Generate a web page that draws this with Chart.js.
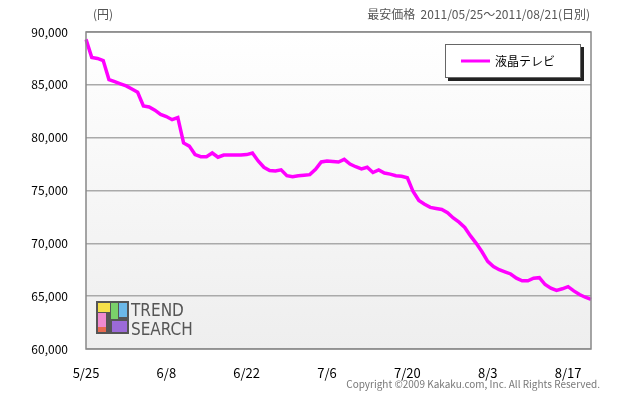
<!DOCTYPE html>
<html><head><meta charset="utf-8">
<script src="https://cdn.jsdelivr.net/npm/chart.js@4/dist/chart.umd.min.js"></script>
<style>html,body{margin:0;padding:0;background:#fff}#w{width:640px;height:400px;position:relative}</style>
</head><body><div id="w"><canvas id="c" width="640" height="400"></canvas></div>
<script>
const startDate = [2011, 5, 25];
const dayCount = 89;
const prices = [89300,87600,87500,87300,85500,85300,85100,84900,84600,84300,
83000,82900,82600,82200,82000,81700,81900,79500,79200,78400,
78200,78200,78550,78150,78350,78350,78350,78350,78400,78550,
77800,77200,76900,76850,76950,76400,76300,76400,76450,76500,
77000,77700,77800,77750,77700,77950,77500,77250,77050,77200,
76700,76950,76650,76550,76400,76350,76200,74900,74050,73700,
73400,73300,73200,72900,72400,72000,71500,70700,70000,69200,
68300,67800,67500,67300,67100,66700,66450,66450,66700,66750,
66100,65750,65550,65700,65900,65500,65150,64900,64700];
const seriesName = '液晶テレビ';
const yTicks = [60000,65000,70000,75000,80000,85000,90000];
const labels = [];
for (let i=0;i<dayCount;i++){const d=new Date(startDate[0],startDate[1]-1,startDate[2]+i);labels.push((d.getMonth()+1)+'/'+d.getDate());}
const JP = '"Noto Sans CJK JP", sans-serif';
const deco = {
 id:'deco',
 beforeDraw(ch){const {ctx,chartArea:a}=ch;ctx.save();
  const g=ctx.createLinearGradient(0,a.top,0,a.bottom);g.addColorStop(0,'#ffffff');g.addColorStop(1,'#eeeeee');
  ctx.fillStyle=g;ctx.fillRect(a.left,a.top,a.right-a.left,a.bottom-a.top);ctx.restore();},
 afterDatasetsDraw(ch){const {ctx,chartArea:a}=ch;ctx.save();
  ctx.strokeStyle='#888';ctx.lineWidth=1.5;ctx.strokeRect(a.left,a.top,a.right-a.left,a.bottom-a.top);
  const lx=96,ly=301;const cols=['#f5e04a','#7ad06a','#6bb8e8','#f08ad0','#9b6ad8','#e86a50'];
  ctx.fillStyle='#555';ctx.fillRect(lx,ly,33,33);
  ctx.fillStyle=cols[0];ctx.fillRect(lx+2,ly+2,12,9);ctx.fillStyle=cols[1];ctx.fillRect(lx+15,ly+2,7,16);
  ctx.fillStyle=cols[2];ctx.fillRect(lx+23,ly+2,8,14);ctx.fillStyle=cols[3];ctx.fillRect(lx+2,ly+12,8,19);
  ctx.fillStyle=cols[4];ctx.fillRect(lx+16,ly+20,15,11);ctx.fillStyle=cols[5];ctx.fillRect(lx+2,ly+26,8,5);
  ctx.fillStyle='#555';ctx.font='17px "DejaVu Sans Condensed", sans-serif';ctx.textBaseline='alphabetic';
  ctx.fillText('TREND',lx+35,ly+15);ctx.fillText('SEARCH',lx+35,ly+34);
  ctx.fillStyle='#fff';ctx.fillRect(445,44,136,34);ctx.strokeStyle='#666';ctx.lineWidth=1;ctx.strokeRect(445.5,44.5,135,33);
  ctx.fillStyle='#222';ctx.fillRect(581,47,3,34);ctx.fillRect(448,78,136,3);
  ctx.strokeStyle='#ff00ff';ctx.lineWidth=3;ctx.beginPath();ctx.moveTo(461,61);ctx.lineTo(490,61);ctx.stroke();
  ctx.fillStyle='#000';ctx.font='12px '+JP;ctx.textBaseline='middle';ctx.fillText(seriesName,495,61);
  ctx.fillStyle='#555';ctx.font='12px '+JP;ctx.textBaseline='alphabetic';ctx.textAlign='left';
  ctx.fillText('(円)',93,19);ctx.textAlign='right';ctx.fillText('最安価格  2011/05/25～2011/08/21(日別)',590,19);
  ctx.font='10px '+JP;ctx.fillStyle='#777';ctx.fillText('Copyright ©2009 Kakaku.com, Inc. All Rights Reserved.',600,388);
  ctx.restore();}
};
new Chart(document.getElementById('c'),{type:'line',
 data:{labels,datasets:[{label:seriesName,data:prices,borderColor:'#ff00ff',borderWidth:3.5,pointRadius:0,tension:0,fill:false}]},
 options:{responsive:false,animation:false,events:[],
  layout:{padding:{top:32,right:49,left:0,bottom:0}},
  plugins:{legend:{display:false},tooltip:{enabled:false}},
  scales:{
   x:{offset:false,afterFit(s){s.height=51;},border:{display:false},
     grid:{color:c=>(c.index%14===0&&c.index>0)?'#bbb':'rgba(0,0,0,0)',lineWidth:1.5,drawTicks:false},
     ticks:{autoSkip:false,maxRotation:0,padding:16,color:'#000',font:{size:13,family:JP},callback:(v,i)=>i%14===0?labels[i]:null}},
   y:{min:60000,max:90000,afterFit(s){s.width=86;},border:{display:false},
     afterBuildTicks(s){s.ticks=yTicks.map(v=>({value:v}));},
     grid:{color:'#aaa',lineWidth:1.5,drawTicks:false},
     ticks:{padding:18,color:'#000',font:{size:12,family:JP},callback:v=>v.toLocaleString('en-US')}}
  }},
 plugins:[deco]});
</script></body></html>
